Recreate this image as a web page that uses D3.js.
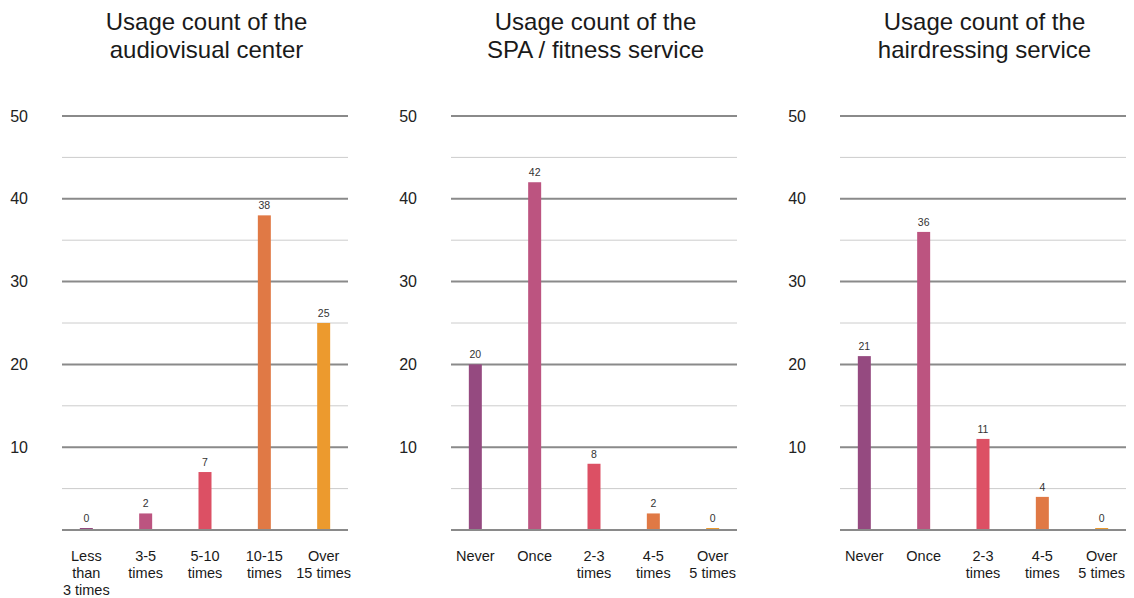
<!DOCTYPE html>
<html>
<head>
<meta charset="utf-8">
<script src="https://cdn.jsdelivr.net/npm/d3@7"></script>
<style>
  html, body { margin: 0; padding: 0; background: #fff; }
  svg { display: block; font-family: "Liberation Sans", Arial, sans-serif; }
</style>
</head>
<body>
<svg id="chart" width="1134" height="598"></svg>
<script>
// Survey results: how often residents used each service
const titles = [
  ["Usage count of the", "audiovisual center"],
  ["Usage count of the", "SPA / fitness service"],
  ["Usage count of the", "hairdressing service"]
];

const audiovisualCategories = [["Less", "than", "3 times"], ["3-5", "times"], ["5-10", "times"], ["10-15", "times"], ["Over", "15 times"]];
const audiovisualValues = [0, 2, 7, 38, 25];

const spaCategories = [["Never"], ["Once"], ["2-3", "times"], ["4-5", "times"], ["Over", "5 times"]];
const spaValues = [20, 42, 8, 2, 0];

const hairCategories = [["Never"], ["Once"], ["2-3", "times"], ["4-5", "times"], ["Over", "5 times"]];
const hairValues = [21, 36, 11, 4, 0];

const yTicksMajor = [10, 20, 30, 40, 50];
const barColors = ["#954a80", "#bc5480", "#dc5064", "#e07945", "#ec9a2e"];

const panels = [
  { title: titles[0], cats: audiovisualCategories, values: audiovisualValues },
  { title: titles[1], cats: spaCategories, values: spaValues },
  { title: titles[2], cats: hairCategories, values: hairValues }
];

const svg = d3.select("#chart");
const panelStep = 389;
const gridLeft = 62, gridWidth = 286;
const y = d3.scaleLinear().domain([0, 50]).range([530, 116]);

panels.forEach((p, i) => {
  const g = svg.append("g").attr("transform", `translate(${i * panelStep},0)`);
  const x = d3.scalePoint()
    .domain(d3.range(p.values.length))
    .range([gridLeft, gridLeft + gridWidth])
    .padding(0.41);

  // title
  const cx = gridLeft + gridWidth / 2 + 1.5;
  const t = g.append("text")
    .attr("text-anchor", "middle")
    .attr("font-size", 24)
    .attr("fill", "#1a1a1a");
  p.title.forEach((line, k) => {
    t.append("tspan").attr("x", cx).attr("y", 30 + k * 28).text(line);
  });

  // gridlines: minor every 5, major every 10
  const gridVals = d3.range(5, 51, 5);
  g.append("g").selectAll("line")
    .data(gridVals)
    .join("line")
    .attr("x1", gridLeft).attr("x2", gridLeft + gridWidth)
    .attr("y1", d => y(d)).attr("y2", d => y(d))
    .attr("stroke", d => d % 10 === 0 ? "#8a8a8a" : "#cccccc")
    .attr("stroke-width", d => d % 10 === 0 ? 2 : 1);

  // y axis labels
  const yAxis = d3.axisLeft(y).tickValues(yTicksMajor).tickSize(0).tickPadding(0);
  const ya = g.append("g").attr("transform", "translate(28,0)").call(yAxis);
  ya.select(".domain").remove();
  ya.selectAll("text")
    .attr("font-size", 16)
    .attr("font-family", "Liberation Sans, Arial, sans-serif")
    .attr("fill", "#222");

  // bars
  const bw = 13;
  g.append("g").selectAll("rect")
    .data(p.values)
    .join("rect")
    .attr("x", (d, k) => x(k) - bw / 2)
    .attr("width", bw)
    .attr("y", d => Math.min(y(d), y(0) - 2))
    .attr("height", d => Math.max(y(0) - y(d), 2))
    .attr("fill", (d, k) => barColors[k]);

  // baseline
  g.append("line")
    .attr("x1", gridLeft).attr("x2", gridLeft + gridWidth)
    .attr("y1", y(0)).attr("y2", y(0))
    .attr("stroke", "#8a8a8a").attr("stroke-width", 2);

  // value labels
  g.append("g").selectAll("text")
    .data(p.values)
    .join("text")
    .attr("x", (d, k) => x(k))
    .attr("y", d => Math.min(y(d), y(0) - 2) - 6)
    .attr("text-anchor", "middle")
    .attr("font-size", 10.5)
    .attr("fill", "#333")
    .text(d => d);

  // category labels
  const cl = g.append("g").selectAll("text")
    .data(p.cats)
    .join("text")
    .attr("text-anchor", "middle")
    .attr("font-size", 14.5)
    .attr("fill", "#1a1a1a");
  cl.each(function(lines, k) {
    const el = d3.select(this);
    lines.forEach((line, j) => {
      el.append("tspan").attr("x", x(k)).attr("y", 561 + j * 17).text(line);
    });
  });
});
</script>
</body>
</html>
